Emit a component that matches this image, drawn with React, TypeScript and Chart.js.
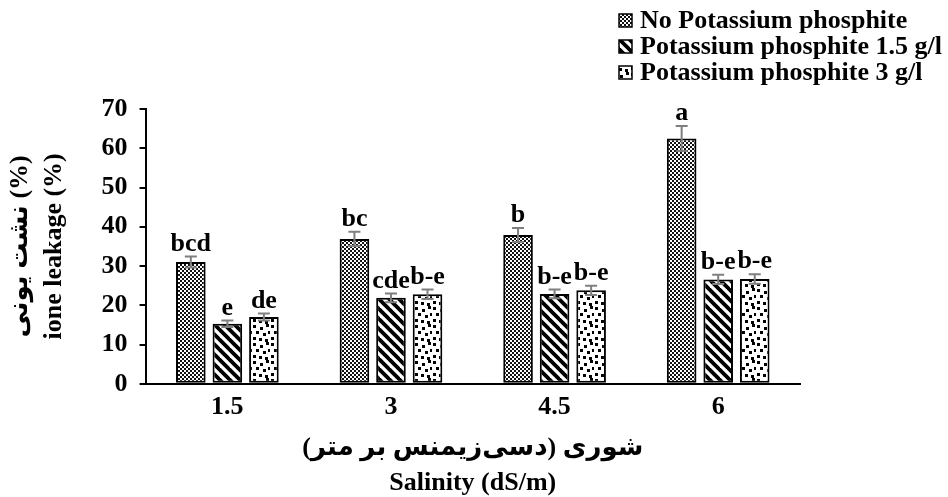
import React, { useEffect, useRef } from 'react';
import { Chart, registerables } from 'chart.js';

Chart.register(...registerables);

const categories = ['1.5', '3', '4.5', '6'];
const seriesNames = ['No Potassium phosphite', 'Potassium phosphite 1.5 g/l', 'Potassium phosphite 3 g/l'];
const noPhosphite = [31.0, 36.9, 37.9, 62.5];
const phosphite15 = [15.3, 21.9, 22.9, 26.6];
const phosphite3 = [17.0, 22.8, 23.8, 26.7];
const errNo = [1.4, 1.8, 1.8, 3.2];
const err15 = [0.8, 1.1, 1.1, 1.2];
const err3 = [0.9, 1.2, 1.2, 1.2];
const lettersNo = ['bcd', 'bc', 'b', 'a'];
const letters15 = ['e', 'cde', 'b-e', 'b-e'];
const letters3 = ['de', 'b-e', 'b-e', 'b-e'];
const yTitle = ['نشت یونی (%)', 'ione leakage (%)'];
const xTitle = ['شوری (دسی‌زیمنس بر متر)', 'Salinity (dS/m)'];

const FONT = "'Liberation Serif', 'Times New Roman', 'DejaVu Sans', serif";

function makeChecker(ctx: CanvasRenderingContext2D) {
  const c = document.createElement('canvas');
  c.width = 4; c.height = 4;
  const g = c.getContext('2d')!;
  g.fillStyle = '#fff'; g.fillRect(0, 0, 4, 4);
  g.fillStyle = '#111';
  g.fillRect(0, 0, 2, 2); g.fillRect(2, 2, 2, 2);
  return ctx.createPattern(c, 'repeat')!;
}

function makeStripes(ctx: CanvasRenderingContext2D) {
  const s = 10;
  const c = document.createElement('canvas');
  c.width = s; c.height = s;
  const g = c.getContext('2d')!;
  g.fillStyle = '#fff'; g.fillRect(0, 0, s, s);
  g.strokeStyle = '#000'; g.lineWidth = 3.8;
  for (const off of [-s, 0, s]) {
    g.beginPath(); g.moveTo(off - 2, -2); g.lineTo(off + s + 2, s + 2); g.stroke();
  }
  return ctx.createPattern(c, 'repeat')!;
}

function makeDots(ctx: CanvasRenderingContext2D) {
  const s = 18;
  const c = document.createElement('canvas');
  c.width = s; c.height = s;
  const g = c.getContext('2d')!;
  g.fillStyle = '#fff'; g.fillRect(0, 0, s, s);
  g.fillStyle = '#000';
  const pts = [[1, 1], [8, 3], [14, 0], [4, 7], [11, 9], [16, 7], [1, 13], [7, 14], [13, 15]];
  for (const [x, y] of pts) g.fillRect(x, y, 3, 3);
  return ctx.createPattern(c, 'repeat')!;
}

export default function App() {
  const ref = useRef<HTMLCanvasElement>(null);
  useEffect(() => {
    const canvas = ref.current!;
    const ctx = canvas.getContext('2d')!;
    const pats = [makeChecker(ctx), makeStripes(ctx), makeDots(ctx)];
    const errs = [errNo, err15, err3];
    const letters = [lettersNo, letters15, letters3];

    const extras = {
      id: 'extras',
      afterDatasetsDraw(chart: any) {
        const c = chart.ctx;
        const y = chart.scales.y;
        const area = chart.chartArea;
        c.save();
        chart.data.datasets.forEach((ds: any, di: number) => {
          const meta = chart.getDatasetMeta(di);
          meta.data.forEach((bar: any, i: number) => {
            const v = ds.data[i];
            const e = errs[di][i];
            const x = bar.x;
            const yTop = y.getPixelForValue(v + e);
            const yBot = y.getPixelForValue(v - e);
            c.strokeStyle = '#7f7f7f';
            c.lineWidth = 2;
            c.beginPath();
            c.moveTo(x, yTop); c.lineTo(x, yBot);
            c.moveTo(x - 6, yTop); c.lineTo(x + 6, yTop);
            c.moveTo(x - 6, yBot); c.lineTo(x + 6, yBot);
            c.stroke();
            c.fillStyle = '#000';
            c.font = `bold 26px ${FONT}`;
            c.textAlign = 'center';
            c.textBaseline = 'alphabetic';
            c.fillText(letters[di][i], x, yTop - 6);
          });
        });
        // x axis title (two lines)
        c.fillStyle = '#000';
        c.font = `bold 26px ${FONT}`;
        c.textAlign = 'center';
        c.textBaseline = 'middle';
        const cx = (area.left + area.right) / 2;
        c.fillText(xTitle[0], cx, area.bottom + 64);
        c.fillText(xTitle[1], cx, area.bottom + 99);
        // legend
        c.textAlign = 'left';
        seriesNames.forEach((name, i) => {
          const cy = 20 + i * 26;
          c.fillStyle = pats[i];
          c.fillRect(619, cy - 6, 13, 13);
          c.strokeStyle = '#000';
          c.lineWidth = 1.5;
          c.strokeRect(619, cy - 6, 13, 13);
          c.fillStyle = '#000';
          c.fillText(name, 640, cy + 1);
        });
        c.restore();
      },
    };

    const mk = (label: string, data: number[], i: number) => ({
      label,
      data,
      backgroundColor: pats[i],
      borderColor: '#000',
      borderWidth: 2,
      borderSkipped: false,
      categoryPercentage: 0.67,
      barPercentage: 0.81,
    });

    const chart = new Chart(canvas, {
      type: 'bar',
      data: {
        labels: categories,
        datasets: [
          mk(seriesNames[0], noPhosphite, 0),
          mk(seriesNames[1], phosphite15, 1),
          mk(seriesNames[2], phosphite3, 2),
        ],
      },
      options: {
        animation: false,
        responsive: false,
        layout: { padding: { top: 109, right: 148, left: 4, bottom: 74 } },
        plugins: { legend: { display: false }, tooltip: { enabled: false } },
        scales: {
          x: {
            grid: { display: false },
            border: { display: true, color: '#000', width: 2 },
            ticks: { color: '#000', font: { family: FONT, size: 26, weight: 'bold', lineHeight: 1.2 }, padding: 0 },
          },
          y: {
            min: 0,
            max: 70,
            ticks: { stepSize: 10, color: '#000', font: { family: FONT, size: 26, weight: 'bold' }, padding: 12 },
            grid: { drawOnChartArea: false, drawTicks: true, tickLength: 6, color: '#000', lineWidth: 2 },
            border: { display: true, color: '#000', width: 2 },
            title: {
              display: true,
              text: yTitle,
              color: '#000',
              font: { family: FONT, size: 26, weight: 'bold', lineHeight: 1.28 },
              padding: { top: 0, bottom: 19 },
            },
          },
        },
      },
      plugins: [extras],
    });
    return () => chart.destroy();
  }, []);
  return (
    <div style={{ position: 'fixed', left: 0, top: 0, width: 948, height: 497, background: '#fff' }}>
      <canvas ref={ref} width={948} height={497} style={{ display: 'block', width: 948, height: 497 }} />
    </div>
  );
}
